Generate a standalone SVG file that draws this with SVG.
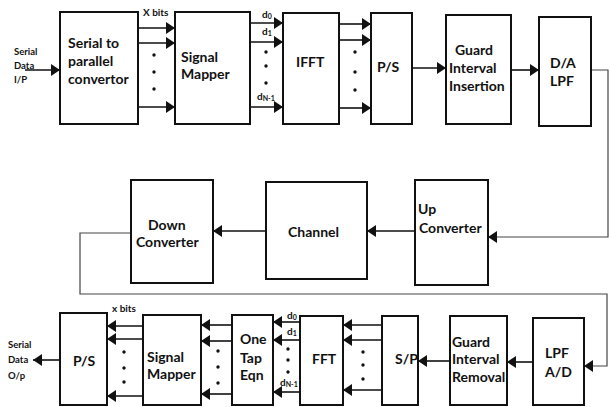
<svg xmlns="http://www.w3.org/2000/svg" width="609" height="407" viewBox="0 0 609 407">
<style>
.box{fill:#fff;stroke:#111;stroke-width:2}
.t{font-family:Lato,"Liberation Sans",sans-serif;font-weight:bold;font-size:14px;fill:#111}
.s{font-family:Lato,"Liberation Sans",sans-serif;font-weight:bold;font-size:9.5px;fill:#111}
.l{font-family:Lato,"Liberation Sans",sans-serif;font-weight:bold;font-size:10px;fill:#111}
.sub{font-size:7px}
.c{fill:none;stroke:#111;stroke-width:1.6}
.f{fill:none;stroke:#444;stroke-width:1.2}
.dot{fill:#111}
</style>
<defs>
<marker id="ah" markerUnits="userSpaceOnUse" markerWidth="10" markerHeight="12" refX="9" refY="6" orient="auto">
<path d="M0,0 L9,6 L0,12 z" fill="#111"/>
</marker>
</defs>
<rect width="609" height="407" fill="#fff"/>
<g id="connectors">
<path class="c" d="M25,70 H60" marker-end="url(#ah)"/>
<path class="c" d="M138,28 H175" marker-end="url(#ah)"/>
<path class="c" d="M138,43 H175" marker-end="url(#ah)"/>
<path class="c" d="M138,107 H175" marker-end="url(#ah)"/>
<path class="c" d="M250,23 H283" marker-end="url(#ah)"/>
<path class="c" d="M250,42 H283" marker-end="url(#ah)"/>
<path class="c" d="M250,107 H283" marker-end="url(#ah)"/>
<path class="c" d="M339,24 H371" marker-end="url(#ah)"/>
<path class="c" d="M339,40 H371" marker-end="url(#ah)"/>
<path class="c" d="M339,108 H371" marker-end="url(#ah)"/>
<path class="c" d="M412,68 H446" marker-end="url(#ah)"/>
<path class="c" d="M511,70 H539" marker-end="url(#ah)"/>
<path class="f" d="M591,70 H608 V237 H488" marker-end="url(#ah)"/>
<path class="c" d="M415,231 H367" marker-end="url(#ah)"/>
<path class="c" d="M266,231 H213" marker-end="url(#ah)"/>
<path class="f" d="M131,233 H80 V294 H607 V366 H584" marker-end="url(#ah)"/>
<path class="c" d="M533,362 H507" marker-end="url(#ah)"/>
<path class="c" d="M450,361 H418" marker-end="url(#ah)"/>
<path class="c" d="M382,325 H343" marker-end="url(#ah)"/>
<path class="c" d="M382,340 H343" marker-end="url(#ah)"/>
<path class="c" d="M382,390 H343" marker-end="url(#ah)"/>
<path class="c" d="M300,322 H273" marker-end="url(#ah)"/>
<path class="c" d="M300,340 H273" marker-end="url(#ah)"/>
<path class="c" d="M300,392 H273" marker-end="url(#ah)"/>
<path class="c" d="M232,325 H201" marker-end="url(#ah)"/>
<path class="c" d="M232,341 H201" marker-end="url(#ah)"/>
<path class="c" d="M232,394 H201" marker-end="url(#ah)"/>
<path class="c" d="M143,326 H107" marker-end="url(#ah)"/>
<path class="c" d="M143,339 H107" marker-end="url(#ah)"/>
<path class="c" d="M143,396 H107" marker-end="url(#ah)"/>
<path class="c" d="M60,360 H33" marker-end="url(#ah)"/>
<g class="dot">
<circle cx="154" cy="55" r="1.7"/><circle cx="154" cy="72" r="1.7"/><circle cx="154" cy="89" r="1.7"/>
<circle cx="266" cy="52" r="1.7"/><circle cx="266" cy="66" r="1.7"/><circle cx="266" cy="83" r="1.7"/>
<circle cx="355" cy="52" r="1.7"/><circle cx="355" cy="72" r="1.7"/><circle cx="355" cy="90" r="1.7"/>
<circle cx="124" cy="352" r="1.7"/><circle cx="124" cy="368" r="1.7"/><circle cx="124" cy="382" r="1.7"/>
<circle cx="218" cy="351" r="1.7"/><circle cx="218" cy="367" r="1.7"/><circle cx="218" cy="383" r="1.7"/>
<circle cx="288" cy="349" r="1.7"/><circle cx="288" cy="360" r="1.7"/><circle cx="288" cy="372" r="1.7"/>
<circle cx="363" cy="352" r="1.7"/><circle cx="363" cy="365" r="1.7"/><circle cx="363" cy="379" r="1.7"/>
</g>
<text class="l" x="143" y="16">X bits</text>
<text class="l" x="262" y="18">d<tspan class="sub" dy="1">0</tspan></text>
<text class="l" x="262" y="35">d<tspan class="sub" dy="1">1</tspan></text>
<text class="l" x="257" y="100">d<tspan class="sub" dy="1">N-1</tspan></text>
<text class="l" x="112" y="312">x bits</text>
<text class="l" x="287" y="319">d<tspan class="sub" dy="1">0</tspan></text>
<text class="l" x="287" y="335">d<tspan class="sub" dy="1">1</tspan></text>
<text class="l" x="280" y="386">d<tspan class="sub" dy="1">N-1</tspan></text>
<text class="s" x="14" y="55">Serial</text>
<text class="s" x="14" y="69">Data</text>
<text class="s" x="14" y="83">I/P</text>
<text class="s" x="8" y="348">Serial</text>
<text class="s" x="8" y="363">Data</text>
<text class="s" x="8" y="379">O/p</text>
</g>
<g id="s2p"><rect class="box" x="60" y="12" width="78" height="112"/>
<text class="t" x="68" y="48">Serial to</text><text class="t" x="68" y="66">parallel</text><text class="t" x="68" y="84">convertor</text></g>
<g id="mapper"><rect class="box" x="175" y="12" width="75" height="112"/>
<text class="t" x="181" y="62">Signal</text><text class="t" x="181" y="79">Mapper</text></g>
<g id="ifft"><rect class="box" x="283" y="13" width="56" height="111"/>
<text class="t" x="296" y="67">IFFT</text></g>
<g id="ps"><rect class="box" x="371" y="13" width="41" height="111"/>
<text class="t" x="377" y="72">P/S</text></g>
<g id="gii"><rect class="box" x="446" y="15" width="65" height="109"/>
<text class="t" x="455" y="55" font-size="13">Guard</text><text class="t" x="449" y="73" font-size="13">Interval</text><text class="t" x="449" y="91" font-size="13">Insertion</text></g>
<g id="da"><rect class="box" x="539" y="17" width="52" height="109"/>
<text class="t" x="550" y="68">D/A</text><text class="t" x="550" y="86">LPF</text></g>
<g id="down"><rect class="box" x="131" y="180" width="82" height="103"/>
<text class="t" x="148" y="230" font-size="13">Down</text><text class="t" x="136" y="247" font-size="13">Converter</text></g>
<g id="channel"><rect class="box" x="266" y="182" width="101" height="97"/>
<text class="t" x="288" y="237" font-size="15">Channel</text></g>
<g id="up"><rect class="box" x="415" y="180" width="73" height="105"/>
<text class="t" x="418" y="214" font-size="13">Up</text><text class="t" x="419" y="233" font-size="13">Converter</text></g>
<g id="ps2"><rect class="box" x="60" y="313" width="47" height="92"/>
<text class="t" x="73" y="366">P/S</text></g>
<g id="mapper2"><rect class="box" x="143" y="315" width="58" height="90"/>
<text class="t" x="147" y="362">Signal</text><text class="t" x="147" y="379">Mapper</text></g>
<g id="onetap"><rect class="box" x="232" y="315" width="41" height="90"/>
<text class="t" x="240" y="344">One</text><text class="t" x="240" y="363">Tap</text><text class="t" x="240" y="380">Eqn</text></g>
<g id="fft"><rect class="box" x="300" y="316" width="43" height="89"/>
<text class="t" x="312" y="364">FFT</text></g>
<g id="sp"><rect class="box" x="382" y="316" width="36" height="89"/>
<text class="t" x="395" y="364">S/P</text></g>
<g id="gir"><rect class="box" x="450" y="316" width="57" height="89"/>
<text class="t" x="452" y="347" font-size="13">Guard</text><text class="t" x="452" y="364" font-size="13">Interval</text><text class="t" x="452" y="382" font-size="13">Removal</text></g>
<g id="lpf"><rect class="box" x="533" y="318" width="51" height="87"/>
<text class="t" x="545" y="358">LPF</text><text class="t" x="545" y="377">A/D</text></g>
</svg>
